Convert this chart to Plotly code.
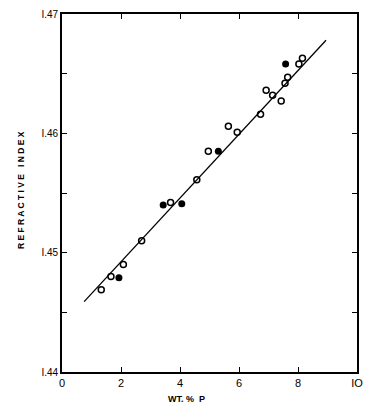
import plotly.graph_objects as go

# Open-circle data
open_x = [1.33, 1.66, 2.08, 2.70, 3.68, 4.57, 4.96, 5.64, 5.94, 6.73, 6.92, 7.14, 7.43, 7.56, 7.65, 8.03, 8.15]
open_y = [1.4469, 1.4480, 1.4490, 1.4510, 1.4542, 1.4561, 1.4585, 1.4606, 1.4601, 1.4616, 1.4636, 1.4632, 1.4627, 1.4642, 1.4647, 1.4658, 1.4663]
# Filled-circle data
filled_x = [1.93, 3.43, 4.06, 5.30, 7.58]
filled_y = [1.4479, 1.4540, 1.4541, 1.4585, 1.4658]
# Fitted line end points
line_x = [0.75, 8.95]
line_y = [1.4459, 1.4678]

x_ticks = [0, 2, 4, 6, 8, 10]
x_ticktext = ["0", "2", "4", "6", "8", "IO"]
y_ticks = [1.44, 1.445, 1.45, 1.455, 1.46, 1.465, 1.47]
y_ticktext = ["I.44", "", "I.45", "", "I.46", "", "I.47"]

font_fam = "Liberation Sans, Arial, sans-serif"

fig = go.Figure()
fig.add_trace(go.Scatter(x=line_x, y=line_y, mode="lines",
                         line=dict(color="black", width=1.3), showlegend=False))
fig.add_trace(go.Scatter(x=open_x, y=open_y, mode="markers",
                         marker=dict(symbol="circle-open", size=6, color="black",
                                     line=dict(width=1.5, color="black")),
                         showlegend=False))
fig.add_trace(go.Scatter(x=filled_x, y=filled_y, mode="markers",
                         marker=dict(symbol="circle", size=7, color="black"),
                         showlegend=False))

W, H = 383, 416
L, R, T, B = 62, 26, 14, 44

fig.update_layout(
    width=W, height=H,
    margin=dict(l=L, r=R, t=T, b=B, autoexpand=False),
    paper_bgcolor="white", plot_bgcolor="white",
    font=dict(family=font_fam, color="black", size=10),
    xaxis=dict(range=[0, 10], tickvals=x_ticks, ticktext=x_ticktext,
               ticks="inside", ticklen=5, tickwidth=1.3, tickcolor="black",
               showline=True, linecolor="black", linewidth=1.6, mirror="ticks",
               showgrid=False, zeroline=False,
               tickfont=dict(size=11, family=font_fam)),
    yaxis=dict(range=[1.44, 1.47], tickvals=y_ticks, ticktext=y_ticktext,
               ticks="inside", ticklen=5, tickwidth=1.3, tickcolor="black",
               showline=True, linecolor="black", linewidth=1.6, mirror="ticks",
               showgrid=False, zeroline=False,
               tickfont=dict(size=10, family=font_fam)),
)

pw = W - L - R
ph = H - T - B
def px2paper(x, y):
    return (x - L) / pw, (H - B - y) / ph

ax, ay = px2paper(186, 399)
bx, by = px2paper(21, 190)
fig.add_annotation(text="<b>WT. %  P</b>", x=ax, y=ay, xref="paper", yref="paper",
                   xanchor="center", yanchor="middle",
                   showarrow=False, font=dict(size=9, family=font_fam))
fig.add_annotation(text="<b>R E F R A C T I V E   I N D E X</b>", x=bx, y=by,
                   xref="paper", yref="paper", xanchor="center", yanchor="middle",
                   showarrow=False, textangle=-90,
                   font=dict(size=8.5, family=font_fam))

fig.write_html("out.html", config={"displayModeBar": False},
               post_script="document.body.style.margin='0';document.body.style.overflow='hidden';")
